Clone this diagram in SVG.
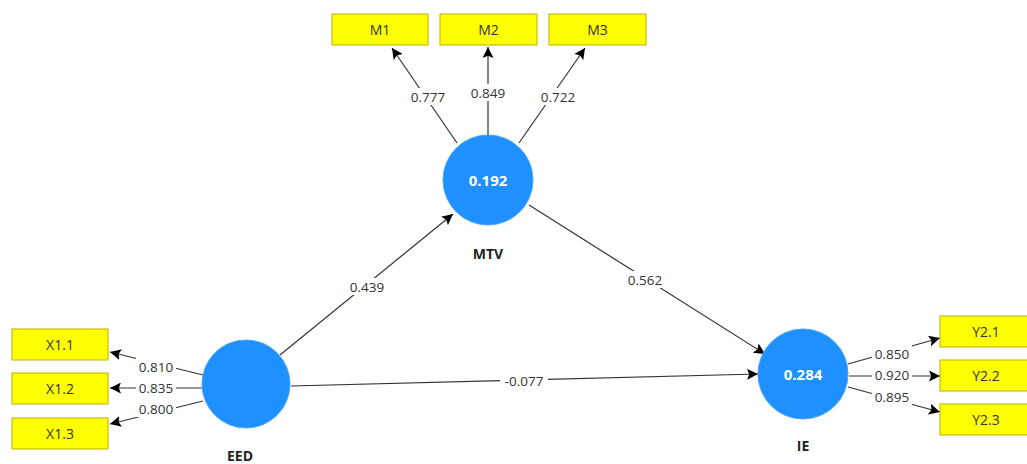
<svg xmlns="http://www.w3.org/2000/svg" width="1027" height="464" viewBox="0 0 1027 464">
<defs>
<marker id="ah" viewBox="0 0 10 10" refX="10" refY="5" markerWidth="11" markerHeight="11" markerUnits="userSpaceOnUse" orient="auto">
<path d="M0,0 L10,5 L0,10 L2,5 Z" fill="#000"/>
</marker>
</defs>
<style>
.ind rect{fill:#ffff00;stroke:#bfae00;stroke-width:1}
.ind text{font-family:"Open Sans","Noto Sans",sans-serif;font-size:14px;fill:#333;text-anchor:middle;dominant-baseline:central}
.lv circle{fill:#1e90ff;stroke:#4aa3ff;stroke-width:1}
.lv .r2{font-family:"Open Sans","Noto Sans",sans-serif;font-size:15px;font-weight:bold;fill:#fff;text-anchor:middle;dominant-baseline:central}
.lv .nm{font-family:"Open Sans","Noto Sans",sans-serif;font-size:14px;font-weight:bold;fill:#222;text-anchor:middle;dominant-baseline:central}
.edges line{stroke:#333;stroke-width:1.2;marker-end:url(#ah)}
.lbl rect{fill:#fff}
.lbl text{font-family:"Open Sans","Noto Sans",sans-serif;font-size:13.5px;fill:#333;text-anchor:middle;dominant-baseline:central}
</style>
<rect width="1027" height="464" fill="#fff"/>
<g class="edges" id="connectors">
<line x1="280" y1="355" x2="453" y2="214"/>
<line x1="529" y1="205" x2="765" y2="354"/>
<line x1="291" y1="386" x2="758" y2="374"/>
<line x1="457" y1="143" x2="392" y2="48"/>
<line x1="488" y1="135" x2="488" y2="47"/>
<line x1="519" y1="143" x2="585" y2="48"/>
<line x1="203" y1="375" x2="110" y2="352"/>
<line x1="202" y1="388" x2="110" y2="388"/>
<line x1="203" y1="401" x2="110" y2="424"/>
<line x1="848" y1="364" x2="940" y2="338"/>
<line x1="849" y1="376" x2="940" y2="376"/>
<line x1="848" y1="387" x2="940" y2="412"/>
<g class="lbl">
<rect x="347" y="278" width="40" height="17"/><text x="367" y="287">0.439</text>
<rect x="625" y="271" width="40" height="17"/><text x="645" y="280">0.562</text>
<rect x="500" y="372" width="48" height="17"/><text x="524" y="381">-0.077</text>
<rect x="408" y="88" width="40" height="17"/><text x="428" y="97">0.777</text>
<rect x="468" y="84" width="40" height="17"/><text x="488" y="93">0.849</text>
<rect x="538" y="88" width="40" height="17"/><text x="558" y="97">0.722</text>
<rect x="136" y="358" width="40" height="17"/><text x="156" y="367">0.810</text>
<rect x="136" y="379" width="40" height="17"/><text x="156" y="388">0.835</text>
<rect x="136" y="400" width="40" height="17"/><text x="156" y="409">0.800</text>
<rect x="872" y="345" width="40" height="17"/><text x="892" y="354">0.850</text>
<rect x="872" y="366" width="40" height="17"/><text x="892" y="375">0.920</text>
<rect x="872" y="388" width="40" height="17"/><text x="892" y="397">0.895</text>
</g>
</g>
<g id="M1" class="ind"><rect x="332" y="14" width="96" height="31"/><text x="380" y="29.5">M1</text></g>
<g id="M2" class="ind"><rect x="440" y="14" width="97" height="31"/><text x="488.5" y="29.5">M2</text></g>
<g id="M3" class="ind"><rect x="549" y="14" width="97" height="31"/><text x="597.5" y="29.5">M3</text></g>
<g id="X1.1" class="ind"><rect x="12" y="329" width="96" height="31"/><text x="60" y="344.5">X1.1</text></g>
<g id="X1.2" class="ind"><rect x="12" y="373" width="96" height="31"/><text x="60" y="388.5">X1.2</text></g>
<g id="X1.3" class="ind"><rect x="12" y="418" width="96" height="31"/><text x="60" y="433.5">X1.3</text></g>
<g id="Y2.1" class="ind"><rect x="940" y="316" width="96" height="31"/><text x="986" y="331.5">Y2.1</text></g>
<g id="Y2.2" class="ind"><rect x="940" y="360" width="96" height="31"/><text x="986" y="375.5">Y2.2</text></g>
<g id="Y2.3" class="ind"><rect x="940" y="404" width="96" height="31"/><text x="986" y="419.5">Y2.3</text></g>
<g id="MTV" class="lv"><circle cx="488" cy="180" r="45"/><text class="r2" x="488" y="180">0.192</text><text class="nm" x="488" y="253">MTV</text></g>
<g id="EED" class="lv"><circle cx="246" cy="384" r="44"/><text class="nm" x="240" y="455">EED</text></g>
<g id="IE" class="lv"><circle cx="803" cy="374" r="45"/><text class="r2" x="803" y="374">0.284</text><text class="nm" x="803" y="445">IE</text></g>
</svg>
